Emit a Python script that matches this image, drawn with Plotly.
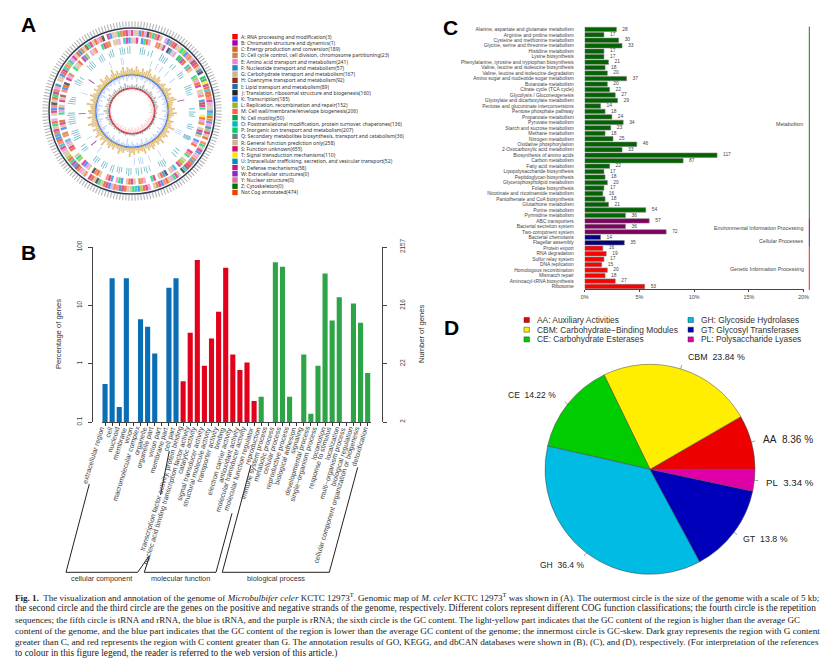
import numpy as np
import plotly.graph_objects as go

W, H = 832, 666

# ---------- Panel A data ----------
cog_letters = list("ABCDEFGHIJKLMNOPQRSTUVWYZX")
cog_labels = [
    "A: RNA processing and modification(3)", "B: Chromatin structure and dynamics(1)",
    "C: Energy production and conversion(189)", "D: Cell cycle control, cell division, chromosome partitioning(23)",
    "E: Amino acid transport and metabolism(241)", "F: Nucleotide transport and metabolism(57)",
    "G: Carbohydrate transport and metabolism(167)", "H: Coenzyme transport and metabolism(92)",
    "I: Lipid transport and metabolism(89)", "J: Translation, ribosomal structure and biogenesis(160)",
    "K: Transcription(185)", "L: Replication, recombination and repair(152)",
    "M: Cell wall/membrane/envelope biogenesis(206)", "N: Cell motility(50)",
    "O: Posttranslational modification, protein turnover, chaperones(136)",
    "P: Inorganic ion transport and metabolism(207)",
    "Q: Secondary metabolites biosynthesis, transport and catabolism(36)",
    "R: General function prediction only(258)", "S: Function unknown(655)",
    "T: Signal transduction mechanisms(110)", "U: Intracellular trafficking, secretion, and vesicular transport(52)",
    "V: Defense mechanisms(58)", "W: Extracellular structures(0)", "Y: Nuclear structure(0)",
    "Z: Cytoskeleton(0)", "Not Cog annotated(474)"]
cog_colors = ["#FF0000", "#9B00C8", "#D2691E", "#CD853F", "#EE82D8", "#2088C8", "#D2B48C", "#8B3020",
              "#2070A8", "#222222", "#2070F0", "#90BC20", "#FF6347", "#00A550", "#00B8C4", "#00CD66",
              "#708090", "#D2B48C", "#CD1076", "#FFE800", "#0090C0", "#C71585", "#8A2BBE", "#DB7093",
              "#007000", "#EE4000"]
ring_plus = ("SRGKXEJMPCSR.EKQXSGRPLKMCEHSXRIJ.NNTSXOXXMSEGRKPXCKEILSRX.MPGSKRECFXSHOJ.RSPEGXMKSCR."
             "ESXLKOPGRXSIMCEKSXRPJGXS.MRECHKSPXLRGESOMXKFCSRPXE.GSKMJRXPSCEI.RGKXSPMLOESRXKCGHPSRXEMJ.SKGRPCXSE")
ring_minus = ("RGS.KPXE..MCRS.JKGE.NNSX.OCR..PLEXS.GRM.KHSP..TXEC.RSIG.KEX..SMP.RLCS.OEG.JKXR.SP..EMC"
              ".GSXR.KPE.FSM..RXCJ.GEKS.LPR..XSGEO.MC.KRSX..PEIG.SRH.MKXJ.SEC..PRGX.SKL.ERM..PSXC.GRE.OSK")
teal_angles = [8, 10, 12, 16, 19, 28, 30, 32, 34, 41, 44, 52, 54, 56, 66, 68, 70, 72, 74, 88, 91, 93, 95, 103,
               105, 107, 114, 115, 116, 117, 130, 133, 136, 147, 149, 151, 153, 163, 166, 168, 171, 174, 176, 181, 183,
               185, 190, 192, 194, 198, 200, 205, 207, 209, 214, 216, 218, 230, 232, 235, 243, 245, 247, 249, 251,
               258, 260, 262, 264, 266, 268, 277, 279, 281, 283, 296, 298, 300, 303, 315, 317, 319, 321,
               328, 330, 332, 338, 340, 342, 349, 351, 353, 356, 358]
teal_len = [7, 8, 6, 5, 7, 8, 7, 6, 7, 5, 6, 7, 6, 5, 8, 7, 7, 5, 6, 6, 7, 5, 6, 5,
            7, 6, 7, 8, 8, 7, 5, 6, 7, 6, 8, 7, 5, 6, 7, 5, 7, 8, 6, 7, 8,
            6, 5, 7, 6, 8, 7, 6, 8, 7, 5, 7, 6, 6, 7, 5, 8, 7, 6, 8, 7,
            7, 8, 7, 6, 8, 7, 8, 7, 6, 5, 7, 8, 6, 5, 7, 6, 8, 7,
            6, 7, 8, 5, 7, 8, 7, 8, 6, 7, 8]
trna_angles = [350, 335, 22, 29, 35, 43, 53, 112, 114, 116, 147, 160, 168, 170, 172, 177, 220, 238, 290, 348]
rrna_angles = [78, 267, 230, 306]
gc_high = [6, 4, 8, 5, 3, 7, 4, 6, 9, 5, 3, 6, 4, 7, 5, 2, 4, 6, 3, 5, 8, 4, 6, 3, 7, 9, 5, 4, 3, 6,
           4, 8, 5, 3, 2, 6, 4, 5, 9, 3, 6, 4, 7, 5, 3, 8, 4, 6, 3, 5, 7, 4, 6, 3, 8, 5, 4, 6, 3, 7,
           5, 9, 4, 3, 6, 5, 8, 4, 3, 6, 4, 7, 5, 3, 9, 4, 6, 3, 8, 5, 4, 7, 3, 6, 9, 5, 4, 8, 3, 6,
           7, 4, 5, 9, 3, 6, 4, 8, 5, 3, 7, 4, 6, 5, 3, 8, 4, 6, 7, 3, 5, 9, 4, 6, 3, 5, 8, 4, 7, 5]
gc_low = [5, 2, 3, 7, 2, 3, 4, 2, 6, 3, 2, 4, 2, 3, 6, 2, 3, 2, 5, 2, 3, 7, 2, 4, 2, 3, 5, 2, 3, 2,
          6, 2, 3, 4, 2, 8, 3, 2, 4, 2, 3, 6, 2, 4, 2, 3, 5, 2, 4, 3, 2, 6, 3, 2, 7, 3, 2, 4, 2, 3,
          5, 2, 3, 8, 2, 4, 3, 2, 5, 3, 2, 4, 6, 2, 3, 2, 5, 3, 2, 4, 7, 2, 3, 2, 4, 6, 2, 3, 8, 2,
          3, 4, 2, 6, 3, 2, 5, 2, 3, 7, 2, 4, 3, 2, 6, 2, 3, 4, 2, 5, 3, 2, 7, 3, 2, 4, 2, 6, 3, 2]
skew_black = [3, 2, 4, 2, 3, 5, 2, 3, 2, 4, 3, 2, 4, 2, 3, 2, 3, 2, 1, 2, 1, 2, 1, 1, 2, 1, 1, 2, 1, 1,
              1, 2, 1, 1, 1, 2, 1, 1, 1, 2, 1, 1, 2, 1, 1, 2, 1, 2, 3, 2, 3, 4, 2, 3, 5, 2, 4, 3, 2, 4,
              3, 5, 2, 3, 4, 2, 3, 4, 2, 5, 3, 2]
skew_red = [2, 1, 2, 1, 1, 2, 1, 1, 2, 1, 2, 1, 3, 2, 4, 3, 2, 4, 3, 5, 2, 4, 3, 5, 4, 6, 3, 5, 4, 6,
            5, 3, 6, 4, 5, 3, 6, 4, 5, 3, 5, 4, 3, 5, 2, 4, 3, 2, 3, 2, 1, 2, 1, 2, 1, 1, 2, 1, 1, 2,
            1, 2, 1, 1, 2, 1, 1, 2, 1, 1, 2, 1]

# ---------- Panel B data ----------
go_terms = ["extracellular region", "cell", "nucleoid", "membrane", "virion", "macromolecular complex",
            "organelle", "organelle part", "virion part", "membrane part", "cell part",
            "transcription factor activity, protein binding", "nucleic acid binding transcription factor activity",
            "catalytic activity", "signal transducer activity", "structural molecule activity", "transporter activity",
            "binding", "electron carrier activity", "antioxidant activity", "molecular transducer activity",
            "molecular function regulator",
            "reproduction", "immune system process", "metabolic process", "cellular process", "reproductive process",
            "biological adhesion", "signaling", "developmental process", "single\u2212organism process", "locomotion",
            "response to stimulus", "localization", "multi\u2212organism process", "biological regulation",
            "cellular component organization or biogenesis", "detoxification"]
go_percent = [0.45, 29, 0.18, 29, None, 5.8, 4.3, 1.5, None, 20, 29,
              0.5, 3.4, 60, 0.92, 2.7, 7.8, 44, 1.43, 0.78, 1.05, 0.23,
              0.27, None, 55, 46, 0.27, None, 1.43, 0.139, 0.92, 35, 5.5, 13.7, None, 10.8, 5.05, 0.69]
go_colors = ["#0A6EB4"] * 11 + ["#E3001B"] * 11 + ["#2DA546"] * 16
pct_ticks = [0.1, 1, 10, 100]
num_ticks = ["2", "22", "216", "2157"]

# ---------- Panel C data ----------
kegg_terms = ["Alanine, aspartate and glutamate metabolism", "Arginine and proline metabolism",
              "Cysteine and methionine metabolism", "Glycine, serine and threonine metabolism",
              "Histidine metabolism", "Lysine biosynthesis", "Phenylalanine, tyrosine and tryptophan biosynthesis",
              "Valine, leucine and isoleucine biosynthesis", "Valine, leucine and isoleucine degradation",
              "Amino sugar and nucleotide sugar metabolism", "Butanoate metabolism", "Citrate cycle (TCA cycle)",
              "Glycolysis / Gluconeogenesis", "Glyoxylate and dicarboxylate metabolism",
              "Pentose and glucuronate interconversions", "Pentose phosphate pathway", "Propanoate metabolism",
              "Pyruvate metabolism", "Starch and sucrose metabolism", "Methane metabolism", "Nitrogen metabolism",
              "Oxidative phosphorylation", "2-Oxocarboxylic acid metabolism", "Biosynthesis of amino acids",
              "Carbon metabolism", "Fatty acid metabolism", "Lipopolysaccharide biosynthesis",
              "Peptidoglycan biosynthesis", "Glycerophospholipid metabolism", "Folate biosynthesis",
              "Nicotinate and nicotinamide metabolism", "Pantothenate and CoA biosynthesis",
              "Glutathione metabolism", "Purine metabolism", "Pyrimidine metabolism", "ABC transporters",
              "Bacterial secretion system", "Two-component system", "Bacterial chemotaxis", "Flagellar assembly",
              "Protein export", "RNA degradation", "Sulfur relay system", "DNA replication",
              "Homologous recombination", "Mismatch repair", "Aminoacyl-tRNA biosynthesis", "Ribosome"]
kegg_counts = [28, 17, 30, 33, 17, 17, 21, 18, 20, 37, 20, 22, 27, 29, 14, 18, 24, 34, 23, 18, 25, 46, 33, 117, 87,
               22, 17, 18, 20, 17, 16, 18, 21, 54, 36, 57, 36, 72, 14, 35, 16, 19, 17, 15, 20, 18, 27, 53]
kegg_colors = ["#006400"] * 35 + ["#800060"] * 3 + ["#000080"] * 2 + ["#FF0000"] * 8
kegg_total = 968

# ---------- Panel D data ----------
cazy_names = ["AA", "CBM", "CE", "GH", "GT", "PL"]
cazy_share = [8.36, 23.84, 14.22, 36.4, 13.8, 3.34]
cazy_colors = ["#EE0000", "#FFEE00", "#00CD00", "#00BBE3", "#0000BB", "#E000A8"]
cazy_legend = ["AA: Auxiliary Activities", "CBM: Carbohydrate\u2212Binding Modules", "CE: Carbohydrate Esterases",
               "GH: Glycoside Hydrolases", "GT: Glycosyl Transferases", "PL: Polysaccharide Lyases"]

caption = [
    ("<b>Fig. 1.</b>  The visualization and annotation of the genome of <i>Microbulbifer celer</i> KCTC 12973<sup>T</sup>. Genomic map of <i>M. celer</i> KCTC 12973<sup>T</sup> was shown in (A). The outermost circle is the size of the genome with a scale of 5 kb;", 9.05),
    ("the second circle and the third circle are the genes on the positive and negative strands of the genome, respectively. Different colors represent different COG function classifications; the fourth circle is the repetition", 9.4),
    ("sequences; the fifth circle is tRNA and rRNA, the blue is tRNA, and the purple is rRNA; the sixth circle is the GC content. The light-yellow part indicates that the GC content of the region is higher than the average GC", 9.0),
    ("content of the genome, and the blue part indicates that the GC content of the region is lower than the average GC content of the genome; the innermost circle is GC-skew. Dark gray represents the region with G content", 9.26),
    ("greater than C, and red represents the region with C content greater than G. The annotation results of GO, KEGG, and dbCAN databases were shown in (B), (C), and (D), respectively. (For interpretation of the references", 9.16),
    ("to colour in this figure legend, the reader is referred to the web version of this article.)", 9.39),
]

SANS = "Liberation Sans"


def px(x):
    return x / W


def py(y):
    return 1 - y / H


annotations, shapes = [], []


def label(x, y, text, size, color="#333333", anchor="center", family=SANS, angle=0, weight=None):
    annotations.append(dict(x=px(x), y=py(y), xref="paper", yref="paper", text=text, showarrow=False,
                            xanchor=anchor, yanchor="middle", textangle=angle, borderpad=0, borderwidth=0,
                            font=dict(size=size, color=color, family=family, weight=weight)))


def rect(x0, y0, x1, y1, fill):
    shapes.append(dict(type="rect", xref="paper", yref="paper", x0=px(x0), x1=px(x1), y0=py(y0), y1=py(y1),
                       fillcolor=fill, line=dict(width=0)))


def line(points, color="#222222", width=1):
    d = "M " + " L ".join(f"{px(a):.5f},{py(b):.5f}" for a, b in points)
    shapes.append(dict(type="path", xref="paper", yref="paper", path=d, line=dict(color=color, width=width)))


fig = go.Figure()

# ---------- Panel A: rings ----------
cmap = dict(zip(cog_letters, cog_colors))


def gene_ring(seq, r0, r1):
    keep = [i for i, c in enumerate(seq) if c != "."]
    step = 360 / len(seq)
    fig.add_trace(go.Barpolar(theta=[i * step for i in keep], r=[r1 - r0] * len(keep), base=r0,
                              width=step * 0.95, marker=dict(color=[cmap[seq[i]] for i in keep], line_width=0),
                              opacity=0.72, hoverinfo="skip", showlegend=False))


def thin_bars(angles, lengths, bases, width, color, opacity=1.0):
    fig.add_trace(go.Barpolar(theta=angles, r=lengths, base=bases, width=width,
                              marker=dict(color=color, line_width=0), opacity=opacity,
                              hoverinfo="skip", showlegend=False))


def annulus(r0, r1, color):
    fig.add_trace(go.Barpolar(theta=[0], r=[r1 - r0], base=r0, width=360, marker=dict(color=color, line_width=0),
                              hoverinfo="skip", showlegend=False))


gene_ring(ring_plus, 75, 81)
gene_ring(ring_minus, 67.5, 73.5)
thin_bars(teal_angles, teal_len, 57, 0.8, "#5FB0C0", 0.85)
thin_bars(trna_angles, [7] * len(trna_angles), 47, 0.6, "#9DB8F0")
thin_bars(rrna_angles, [7] * len(rrna_angles), 46.5, 0.9, "#A040A8")
gc_theta = [i * 360 / len(gc_high) for i in range(len(gc_high))]
thin_bars(gc_theta, gc_high, 37, 2.4, "#C8911E", 0.55)
thin_bars(gc_theta, gc_low, [36 - v for v in gc_low], 2.4, "#8FB0F8", 0.5)
annulus(36.5, 37.3, "#C8911E")
annulus(35.7, 36.5, "#2A68F0")
skew_theta = [i * 360 / len(skew_black) for i in range(len(skew_black))]
thin_bars(skew_theta, skew_black, 23.5, 3.5, "#666666", 0.45)
thin_bars(skew_theta, skew_red, [22 - v for v in skew_red], 3.5, "#F8A0A8", 0.45)
annulus(22.8, 23.5, "#444444")
annulus(21.9, 22.8, "#F01828")

for i, (lab, col) in enumerate(zip(cog_labels, cog_colors)):
    yy = 36.7 + i * 6.23
    rect(232.3, yy - 2.7, 237.7, yy + 2.7, col)
    label(241, yy, lab, 5.05, "#333333", "left", "Noto Sans")

# ---------- Panel B ----------
fig.add_trace(go.Bar(x=go_terms, y=go_percent, marker=dict(color=go_colors, line=dict(width=0)), width=0.72,
                     xaxis="x", yaxis="y", hoverinfo="skip", showlegend=False))
fig.add_trace(go.Scatter(x=[go_terms[0], go_terms[-1]], y=[0.1, 100], mode="markers", marker=dict(opacity=0),
                         xaxis="x", yaxis="y2", hoverinfo="skip", showlegend=False))
for term in go_terms:
    annotations.append(dict(x=term, xref="x", y=py(424.5), yref="paper", text=term, showarrow=False, textangle=-73,
                            xanchor="right", yanchor="top", xshift=2.5, borderpad=0,
                            font=dict(size=7.0, color="#444444", family=SANS)))
label(58, 334, "Percentage of genes", 7.6, angle=-90)
label(421, 334, "Number of genes", 7.6, angle=-90)
line([(89.3, 484), (66, 572.3), (137.7, 572.3), (149.3, 555.7)])
line([(144.3, 572.3), (149.5, 556)])
line([(160.5, 495), (169.3, 451)])
line([(144.3, 572.3), (216, 572.3), (232, 513.3)])
line([(251, 465), (222.3, 572.3), (329.3, 572.3), (357.7, 467.3)])
label(101.7, 578, "cellular component", 7.3)
label(180, 578, "molecular function", 7.3)
label(276, 578, "biological process", 7.3)

# ---------- Panel C ----------
kegg_pct = [c / kegg_total * 100 for c in kegg_counts]
fig.add_trace(go.Bar(x=kegg_pct, y=kegg_terms, orientation="h", width=0.8,
                     marker=dict(color=kegg_colors, line=dict(color="#777777", width=0.6)),
                     xaxis="x2", yaxis="y3", hoverinfo="skip", showlegend=False))
fig.add_trace(go.Scatter(x=kegg_pct, y=kegg_terms, mode="markers+text", text=[str(c) for c in kegg_counts],
                         textposition="middle right", textfont=dict(size=4.9, color="#444444", family=SANS),
                         marker=dict(size=8, opacity=0), xaxis="x2", yaxis="y3", cliponaxis=False,
                         hoverinfo="skip", showlegend=False))
for y0, y1, col, name, ly in [(26.6, 219, "#1E7A1E", "Metabolism", 124),
                              (219, 235, "#800060", "Environmental Information Processing", 227.7),
                              (235, 246, "#2A2A90", "Cellular Processes", 241),
                              (246, 290, "#F02020", "Genetic Information Processing", 269)]:
    line([(809.3, y0), (809.3, y1)], col, 1)
    label(803.7, ly, name, 5.3, "#444444", "right")

# ---------- Panel D ----------
fig.add_trace(go.Pie(labels=cazy_names, values=cazy_share, sort=False, direction="counterclockwise",
                     rotation=90 - cazy_share[0] / sum(cazy_share) * 360,
                     marker=dict(colors=cazy_colors, line=dict(color="#444444", width=0.5)), textinfo="none",
                     hoverinfo="skip", showlegend=False,
                     domain=dict(x=[px(545), px(755)], y=[py(574.3), py(364.3)])))
mids = (np.cumsum(cazy_share) - np.array(cazy_share) / 2) / sum(cazy_share) * 2 * np.pi
for m in mids:
    line([(650 + 105 * np.cos(m), 469.3 - 105 * np.sin(m)), (650 + 109 * np.cos(m), 469.3 - 109 * np.sin(m))],
         "#666666", 0.6)
for name, val, x, y, size in zip(cazy_names, cazy_share,
                                 [787.7, 716, 532, 562, 765.7, 790], [439, 356.7, 394.7, 565, 539, 482],
                                 [10, 8.8, 8.5, 8.5, 8.8, 9.7]):
    label(x, y, f"{name}\u00a0\u00a0{val:g} %", size, "#222222")
for i, (lab, col) in enumerate(zip(cazy_legend, cazy_colors)):
    col_x = 526.7 if i < 3 else 690.7
    yy = 320 + (i % 3) * 9.7
    rect(col_x - 2.7, yy - 2.5, col_x + 2.7, yy + 2.5, col)
    shapes[-1]["line"] = dict(color="#333333", width=0.5)
    label(col_x + 10.3, yy, lab, 8.4, "#333333", "left")

# ---------- Panel letters ----------
for ch, x, y in [("A", 28, 25), ("B", 28, 252), ("C", 450, 27), ("D", 452, 327)]:
    label(x, y, ch, 21, "#000000", "center", SANS, weight="bold")

# ---------- Caption ----------
for i, (txt, size) in enumerate(caption):
    label(15, 597 + i * 11.3, txt, size, "#1A1A1A", "left", "Liberation Serif")

fig.update_layout(
    width=W, height=H, margin=dict(l=0, r=0, t=0, b=0, pad=0, autoexpand=False), autosize=False,
    paper_bgcolor="white", plot_bgcolor="white",
    barmode="overlay", annotations=annotations, shapes=shapes, showlegend=False,
    polar=dict(domain=dict(x=[px(49), px(215)], y=[py(194), py(28)]), bgcolor="rgba(0,0,0,0)", barmode="overlay",
               radialaxis=dict(visible=False, range=[0, 83]),
               angularaxis=dict(direction="clockwise", rotation=90, showgrid=False, showticklabels=False,
                                tickmode="linear", tick0=0, dtick=2, ticks="outside", ticklen=6, tickwidth=1,
                                tickcolor="#B0B0B0", linecolor="#2A3A50", linewidth=1.5)),
    xaxis=dict(domain=[px(101.5), px(371.2)], anchor="y", type="category", range=[-0.5, 37.5], categoryorder="array",
               categoryarray=go_terms, tickmode="linear", tick0=0, dtick=1, showticklabels=False, ticks="outside",
               ticklen=3, tickwidth=0.8, tickcolor="#333333", showline=True, linecolor="#444444", linewidth=1,
               showgrid=False, zeroline=False, automargin=False),
    yaxis=dict(domain=[py(422), py(247)], type="log", range=[-1, 2], anchor="free", position=px(92), side="left",
               tickmode="array", tickvals=pct_ticks, ticktext=["0.1", "1", "10", "100"], tickangle=-90,
               ticks="outside", ticklen=4, showline=True, linecolor="#444444", linewidth=1, tickcolor="#444444",
               showgrid=False, zeroline=False, ticklabelstandoff=3, tickfont=dict(size=6.3, color="#444444", family=SANS)),
    yaxis2=dict(domain=[py(422), py(247)], type="log", range=[-1, 2], anchor="free", position=px(382), side="right",
                overlaying="y", tickmode="array", tickvals=pct_ticks, ticktext=num_ticks, tickangle=-90,
                ticks="outside", ticklen=4, showline=True, linecolor="#444444", linewidth=1, tickcolor="#444444",
                showgrid=False, zeroline=False, ticklabelstandoff=10, tickfont=dict(size=6.3, color="#444444", family=SANS)),
    xaxis2=dict(domain=[px(584.7), px(803.7)], anchor="y3", range=[0, 20], tickmode="array", tickvals=[0, 5, 10, 15, 20],
                ticktext=["0%", "5%", "10%", "15%", "20%"], ticks="outside", ticklen=2, tickcolor="#444444", showline=True,
                linecolor="#444444", linewidth=1, showgrid=False, zeroline=False,
                tickfont=dict(size=5.4, color="#444444", family=SANS)),
    yaxis3=dict(domain=[py(289.3), py(26.6)], anchor="x2", type="category", categoryorder="array",
                categoryarray=kegg_terms, range=[47.5, -0.5], ticks="outside", ticklen=9, tickcolor="rgba(0,0,0,0)",
                showline=False, showgrid=False, zeroline=False, tickmode="linear", tick0=0, dtick=1,
                tickfont=dict(size=4.9, color="#444444", family=SANS)),
)

fig.write_html("out.html", config=dict(displayModeBar=False),
               post_script="document.body.style.margin='0';document.documentElement.style.overflow='hidden';")
